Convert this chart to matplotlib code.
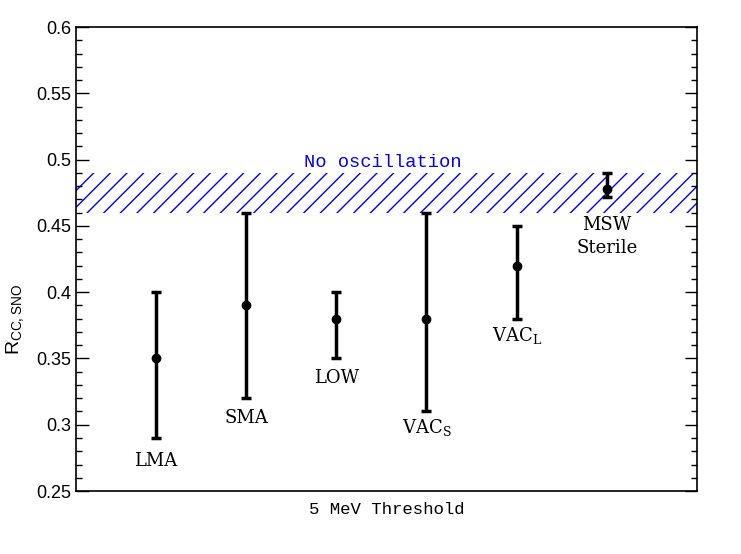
"""
R_CC,SNO для разных решений осцилляций, порог 5 МэВ.
"""
import matplotlib
matplotlib.use('Agg')
import matplotlib.pyplot as plt
from matplotlib.ticker import MultipleLocator

# Данные
labels = ['LMA', 'SMA', 'LOW', r'VAC$_\mathregular{S}$', r'VAC$_\mathregular{L}$', 'MSW\nSterile']
r_center = [0.35, 0.39, 0.38, 0.38, 0.42, 0.478]
r_low = [0.29, 0.32, 0.35, 0.31, 0.38, 0.472]
r_high = [0.40, 0.46, 0.40, 0.46, 0.45, 0.490]
label_y = [0.273, 0.305, 0.335, 0.298, 0.367, 0.442]
no_osc_band = (0.46, 0.49)

x = list(range(1, len(labels) + 1))

plt.rcParams['hatch.linewidth'] = 1.0
plt.rcParams['mathtext.default'] = 'regular'

fig = plt.figure(figsize=(7.41, 5.54), dpi=100)
ax = fig.add_axes([0.1026, 0.1137, 0.838, 0.8373])

# Полоса "без осцилляций"
ax.fill_between([0, 8], no_osc_band[0], no_osc_band[1], facecolor='none',
                edgecolor='blue', hatch='//', linewidth=0)
ax.text(3.51, 0.4975, 'No oscillation', color='blue', ha='center', va='center',
        fontsize=13.5, family='Liberation Mono')

# Точки с ошибками
yerr = [[c - lo for c, lo in zip(r_center, r_low)],
        [hi - c for c, hi in zip(r_center, r_high)]]
ax.errorbar(x, r_center, yerr=yerr, fmt='o', color='black', markersize=6,
            elinewidth=2.5, capsize=3.5, capthick=2.5)

for xi, lab, ly in zip(x, labels, label_y):
    ax.text(xi, ly, lab, ha='center', va='center', fontsize=13,
            family='DejaVu Serif', linespacing=1.4)

ax.set_xlim(0.113, 7.0)
ax.set_ylim(0.25, 0.6)
ax.set_xticks([])
ax.yaxis.set_major_locator(MultipleLocator(0.05))
ax.yaxis.set_minor_locator(MultipleLocator(0.01))
ax.tick_params(axis='y', which='both', direction='in', left=True, right=True)
ax.tick_params(axis='y', which='major', length=9, width=1)
ax.tick_params(axis='y', which='minor', length=4.5, width=1)
ax.yaxis.set_major_formatter(plt.FuncFormatter(lambda v, p: f'{v:g}'))
for lbl in ax.get_yticklabels():
    lbl.set_fontsize(13)
    lbl.set_family('Liberation Sans')
for sp in ax.spines.values():
    sp.set_linewidth(1.2)

ax.set_xlabel('5 MeV Threshold', fontsize=12.5, family='Liberation Mono',
              labelpad=8)
ax.set_ylabel(r'R$_{CC,SNO}$', fontsize=14, family='Liberation Sans')
ax.yaxis.set_label_coords(-0.08, 0.37)

plt.savefig('out.png', dpi=100)
plt.close()
